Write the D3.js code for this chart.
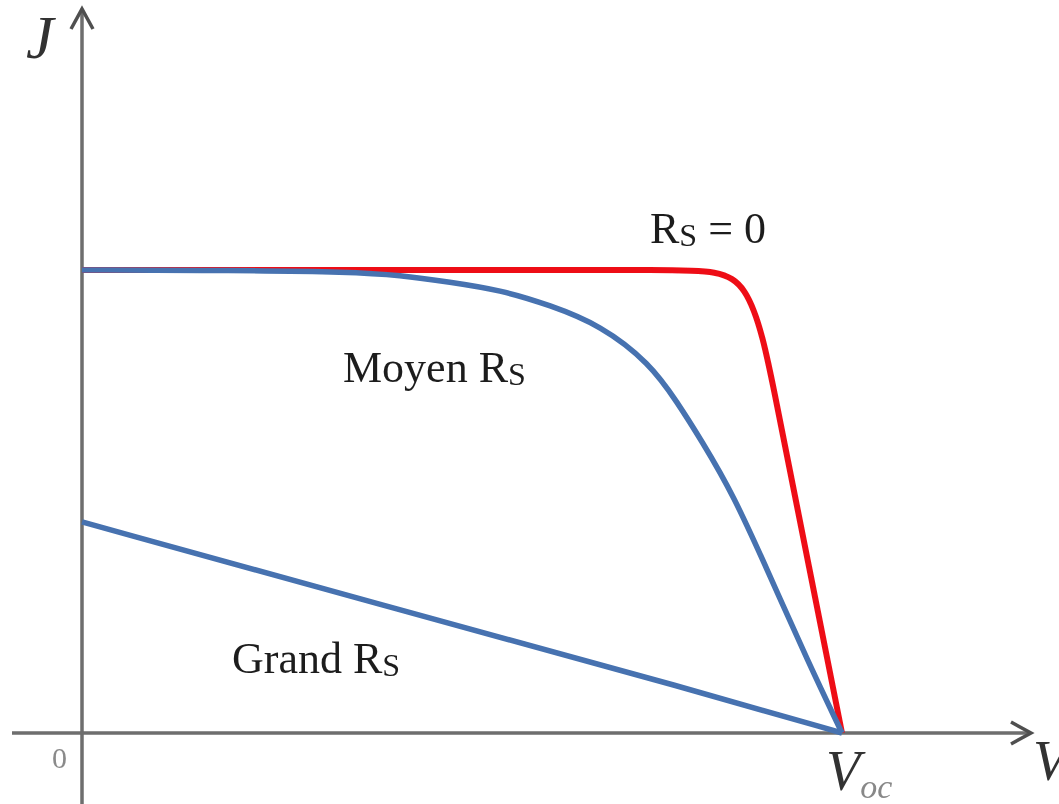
<!DOCTYPE html>
<html>
<head>
<meta charset="utf-8">
<script src="https://cdn.jsdelivr.net/npm/d3@7"></script>
<style>
  html, body { margin: 0; padding: 0; background: #fff; }
  svg { display: block; }
</style>
</head>
<body>
<div id="chart"></div>
<script>
// V normalised to Voc = 1, J normalised to Jsc = 1
const rsZero = [
  [0, 1], [0.4, 1], [0.8, 1], [0.879, 1], [0.913, 0.72],
  [0.9565, 0.36], [1, 0]
];
const rsMoyen = [
  [0, 1], [0.2, 0.999], [0.353, 0.996], [0.418, 0.989], [0.484, 0.974],
  [0.55, 0.957], [0.616, 0.924], [0.682, 0.881], [0.747, 0.799], [0.783, 0.715],
  [0.815, 0.632], [0.857, 0.515], [0.905, 0.34], [0.955, 0.155], [1, 0]
];
const rsGrand = [
  [0, 0.456], [0.418, 0.266], [0.813, 0.089], [1, 0]
];

const W = 1059, H = 804;
const red = "#ee1119", blue = "#4672b0", axisCol = "#6e6e6e", ink = "#1e1e1e";

const svg = d3.select("#chart").append("svg")
  .attr("width", W).attr("height", H)
  .attr("viewBox", `0 0 ${W} ${H}`);

svg.append("defs").append("filter").attr("id", "soft")
  .append("feGaussianBlur").attr("stdDeviation", 0.6);

const x = d3.scaleLinear().domain([0, 1]).range([82, 842]);
const y = d3.scaleLinear().domain([0, 1]).range([733, 270]);

const g = svg.append("g").attr("filter", "url(#soft)");

// axes
g.append("line")
  .attr("x1", x(0)).attr("x2", x(0))
  .attr("y1", 12).attr("y2", H)
  .attr("stroke", axisCol).attr("stroke-width", 3.5);
g.append("line")
  .attr("x1", 12).attr("x2", 1028)
  .attr("y1", y(0)).attr("y2", y(0))
  .attr("stroke", axisCol).attr("stroke-width", 3.5);

// arrow heads
g.append("path")
  .attr("d", `M${x(0) - 11},${29} L${x(0)},${9} L${x(0) + 11},${29}`)
  .attr("fill", "none").attr("stroke", "#505050").attr("stroke-width", 3.5);
g.append("path")
  .attr("d", `M1011,${y(0) - 11} L1031,${y(0)} L1011,${y(0) + 11}`)
  .attr("fill", "none").attr("stroke", "#505050").attr("stroke-width", 3.5);

const line = d3.line()
  .x(d => x(d[0]))
  .y(d => y(d[1]))
  .curve(d3.curveBasis);

// red first so the blue sits on top where they share the plateau
g.append("path").datum(rsZero)
  .attr("d", line)
  .attr("fill", "none").attr("stroke", red).attr("stroke-width", 6)
  .attr("stroke-linejoin", "round");

g.append("path").datum(rsGrand)
  .attr("d", line)
  .attr("fill", "none").attr("stroke", blue).attr("stroke-width", 5.5);

g.append("path").datum(rsMoyen)
  .attr("d", line)
  .attr("fill", "none").attr("stroke", blue).attr("stroke-width", 5.5);

// curve labels
const serif = "'Liberation Serif', 'DejaVu Serif', serif";
function rsLabel(px, py, pre, post) {
  const t = g.append("text")
    .attr("x", px).attr("y", py)
    .attr("font-family", serif).attr("font-size", 44)
    .attr("fill", ink);
  t.append("tspan").text(pre);
  t.append("tspan").attr("font-size", 32).attr("dy", 3).text("S");
  if (post) t.append("tspan").attr("dy", -3).text(post);
}
rsLabel(650, 243, "R", " = 0");
rsLabel(343, 382, "Moyen R", null);
rsLabel(232, 673, "Grand R", null);

// axis labels
g.append("text")
  .attr("x", 26).attr("y", 58)
  .attr("font-family", serif).attr("font-style", "italic")
  .attr("font-size", 62).attr("fill", "#333")
  .text("J");
g.append("text")
  .attr("x", 1033).attr("y", 780)
  .attr("font-family", serif).attr("font-style", "italic")
  .attr("font-size", 56).attr("fill", "#333")
  .text("V");
g.append("text")
  .attr("x", 52).attr("y", 768)
  .attr("font-family", serif)
  .attr("font-size", 30).attr("fill", "#8a8a8a")
  .text("0");
const voc = g.append("text")
  .attr("x", 826).attr("y", 790)
  .attr("font-family", serif).attr("font-style", "italic")
  .attr("font-size", 56).attr("fill", "#333");
voc.append("tspan").text("V");
voc.append("tspan").attr("font-size", 34).attr("dy", 8)
  .attr("fill", "#888").text("oc");
</script>
</body>
</html>
